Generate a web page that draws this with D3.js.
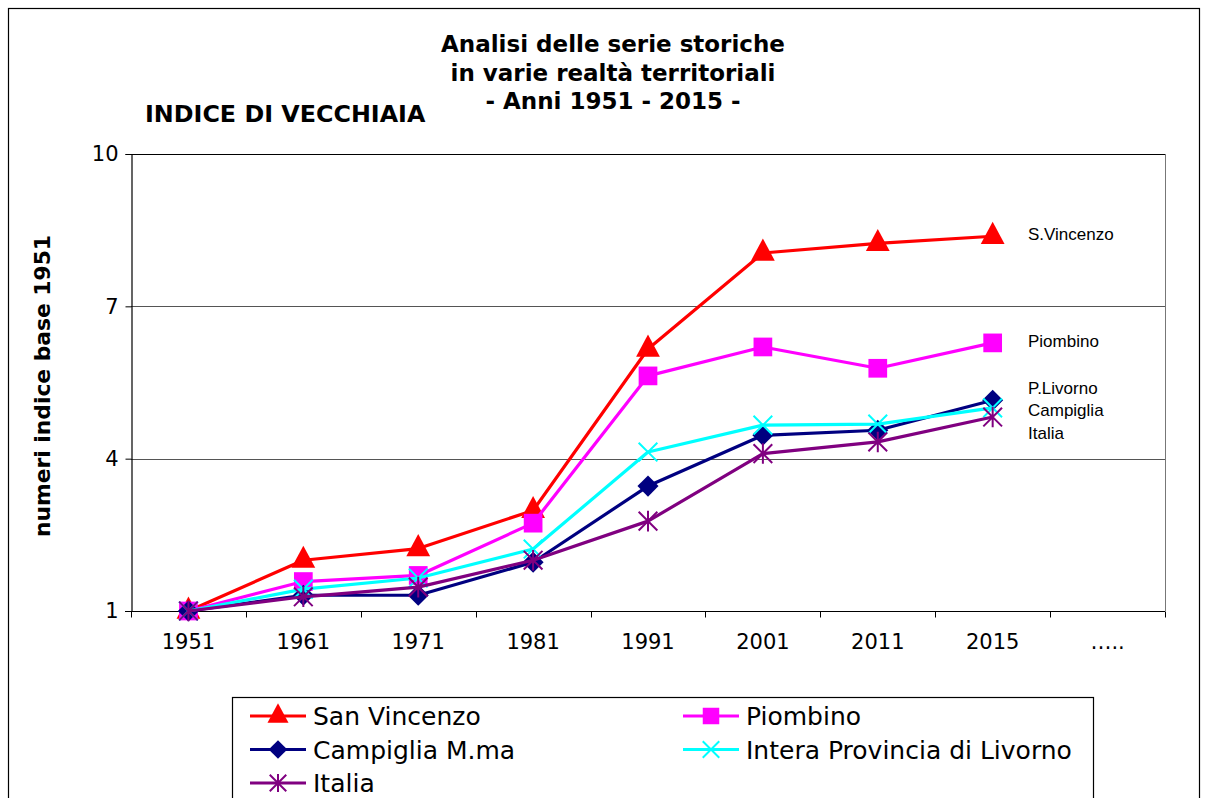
<!DOCTYPE html>
<html>
<head>
<meta charset="utf-8">
<script src="https://cdn.jsdelivr.net/npm/d3@7"></script>
<style>
  body { margin: 0; background: #fff; }
  svg { display: block; font-family: "DejaVu Sans", Verdana, sans-serif; }
</style>
</head>
<body>
<script>
// categories on the x axis
const years = ["1951", "1961", "1971", "1981", "1991", "2001", "2011", "2015", "….."];
const yTicks = [1, 4, 7, 10];

// index values (base 1951 = 1)
const sanVincenzo = [1, 2.0, 2.23, 2.98, 6.16, 8.05, 8.24, 8.38];
const piombino    = [1, 1.58, 1.7, 2.73, 5.63, 6.2, 5.78, 6.28];
const campiglia   = [1, 1.31, 1.31, 1.96, 3.46, 4.46, 4.56, 5.15];
const provincia   = [1, 1.43, 1.65, 2.22, 4.13, 4.66, 4.68, 5.0];
const italia      = [1, 1.28, 1.47, 2.0, 2.77, 4.1, 4.33, 4.82];

const seriesNames = ["San Vincenzo", "Piombino", "Campiglia M.ma", "Intera Provincia di Livorno", "Italia"];
const seriesColors = ["#ff0000", "#ff00ff", "#000080", "#00ffff", "#800080"];
const seriesMarkers = ["triangle", "square", "diamond", "x", "star"];
const seriesValues = [sanVincenzo, piombino, campiglia, provincia, italia];

// short labels at the right of the plot
const sideLabels = [
  { text: "S.Vincenzo", v: 8.42 },
  { text: "Piombino", v: 6.32 },
  { text: "P.Livorno", v: 5.4 },
  { text: "Campiglia", v: 4.95 },
  { text: "Italia", v: 4.5 }
];

const W = 1206, H = 798;
const plot = { left: 131, right: 1165, top: 154, bottom: 611 };

const svg = d3.select("body").append("svg").attr("width", W).attr("height", H);

// outer frame
svg.append("rect").attr("x", 8.5).attr("y", 8.5).attr("width", 1191).attr("height", 820)
  .attr("fill", "none").attr("stroke", "#000").attr("stroke-width", 1.2);

const x = d3.scaleBand().domain(years).range([plot.left, plot.right]);
const y = d3.scaleLinear().domain([1, 10]).range([plot.bottom, plot.top]);

// titles
const title = svg.append("text").attr("text-anchor", "middle").attr("font-weight", "bold")
  .attr("font-size", 23).attr("fill", "#000");
["Analisi delle serie storiche", "in varie realtà territoriali", "- Anni 1951 - 2015 -"].forEach((t, i) => {
  title.append("tspan").attr("x", 613).attr("y", 52 + i * 28.5).text(t);
});
svg.append("text").attr("x", 145).attr("y", 122).attr("font-weight", "bold").attr("font-size", 23.8)
  .text("INDICE DI VECCHIAIA");

// y axis title
svg.append("text").attr("transform", "translate(50,386) rotate(-90)").attr("text-anchor", "middle")
  .attr("font-weight", "bold").attr("font-size", 21.8).text("numeri indice base 1951");

// gridlines
svg.append("g").selectAll("line").data([4, 7]).join("line")
  .attr("x1", plot.left).attr("x2", plot.right)
  .attr("y1", d => Math.round(y(d)) + 0.5).attr("y2", d => Math.round(y(d)) + 0.5)
  .attr("stroke", "#555").attr("stroke-width", 1);

// plot borders: top & right
svg.append("line").attr("x1", plot.left).attr("x2", plot.right).attr("y1", plot.top + 0.5).attr("y2", plot.top + 0.5)
  .attr("stroke", "#000");
svg.append("line").attr("x1", plot.right + 0.5).attr("x2", plot.right + 0.5).attr("y1", plot.top).attr("y2", plot.bottom)
  .attr("stroke", "#777");

// y axis
const yAxis = svg.append("g").attr("transform", `translate(${plot.left + 0.5},0)`)
  .call(d3.axisLeft(y).tickValues(yTicks).tickSize(6).tickPadding(7));
yAxis.select(".domain").attr("stroke", "#000").attr("stroke-width", 1.2);
yAxis.selectAll("text").attr("font-size", 21).attr("font-family", "DejaVu Sans").attr("fill", "#000");

// x axis with ticks on category boundaries
const xAxis = svg.append("g").attr("transform", `translate(0,${plot.bottom + 0.5})`);
xAxis.append("line").attr("x1", plot.left - 6).attr("x2", plot.right).attr("stroke", "#000").attr("stroke-width", 1.2);
const bounds = years.map(d => x(d)).concat([plot.right]);
xAxis.selectAll(".tk").data(bounds).join("line").attr("class", "tk")
  .attr("x1", d => Math.round(d) + 0.5).attr("x2", d => Math.round(d) + 0.5)
  .attr("y1", 0).attr("y2", 6).attr("stroke", "#000");
xAxis.selectAll(".lb").data(years).join("text").attr("class", "lb")
  .attr("x", d => x(d) + x.bandwidth() / 2).attr("y", 37)
  .attr("text-anchor", "middle").attr("font-size", 21).attr("fill", "#000").text(d => d);

// marker shapes
function marker(g, type, color, s) {
  if (type === "triangle") {
    g.append("path").attr("d", `M0,${-s * 0.85}L${s * 0.7},${s * 0.45}L${-s * 0.7},${s * 0.45}Z`).attr("fill", color);
  } else if (type === "square") {
    g.append("rect").attr("x", -s * 0.55).attr("y", -s * 0.55).attr("width", s * 1.1).attr("height", s * 1.1).attr("fill", color);
  } else if (type === "diamond") {
    g.append("path").attr("d", `M0,${-s * 0.62}L${s * 0.62},0L0,${s * 0.62}L${-s * 0.62},0Z`).attr("fill", color);
  } else if (type === "x") {
    const r = s * 0.55;
    g.append("path").attr("d", `M${-r},${-r}L${r},${r}M${r},${-r}L${-r},${r}`).attr("stroke", color).attr("stroke-width", 2);
  } else {
    const r = s * 0.55;
    g.append("path").attr("d", `M${-r},${-r}L${r},${r}M${r},${-r}L${-r},${r}M0,${-r * 1.1}L0,${r * 1.1}`)
      .attr("stroke", color).attr("stroke-width", 2);
  }
}

const line = d3.line().x((d, i) => x(years[i]) + x.bandwidth() / 2).y(d => y(d));

seriesValues.forEach((vals, k) => {
  const g = svg.append("g");
  g.append("path").datum(vals).attr("d", line).attr("fill", "none")
    .attr("stroke", seriesColors[k]).attr("stroke-width", 3.2).attr("stroke-linejoin", "round");
  vals.forEach((v, i) => {
    const m = g.append("g").attr("transform", `translate(${x(years[i]) + x.bandwidth() / 2},${y(v)})`);
    marker(m, seriesMarkers[k], seriesColors[k], 17);
  });
});

// side labels
svg.append("g").selectAll("text").data(sideLabels).join("text")
  .attr("x", 1028).attr("y", d => y(d.v) + 6)
  .attr("font-family", "Liberation Sans, Arial, sans-serif").attr("font-size", 17).attr("fill", "#000")
  .text(d => d.text);

// legend
const leg = svg.append("g");
leg.append("rect").attr("x", 232.5).attr("y", 697.5).attr("width", 861).attr("height", 130)
  .attr("fill", "#fff").attr("stroke", "#000").attr("stroke-width", 1.2);
seriesNames.forEach((name, k) => {
  const col = k % 2, row = Math.floor(k / 2);
  const lx = col === 0 ? 250 : 683, ly = 716 + row * 33.5;
  const g = leg.append("g");
  g.append("line").attr("x1", lx).attr("x2", lx + 56).attr("y1", ly).attr("y2", ly)
    .attr("stroke", seriesColors[k]).attr("stroke-width", 3.2);
  const m = g.append("g").attr("transform", `translate(${lx + 28},${ly})`);
  marker(m, seriesMarkers[k], seriesColors[k], 15);
  g.append("text").attr("x", lx + 63).attr("y", ly + 9).attr("font-size", 25).attr("fill", "#000").text(name);
});
</script>
</body>
</html>
